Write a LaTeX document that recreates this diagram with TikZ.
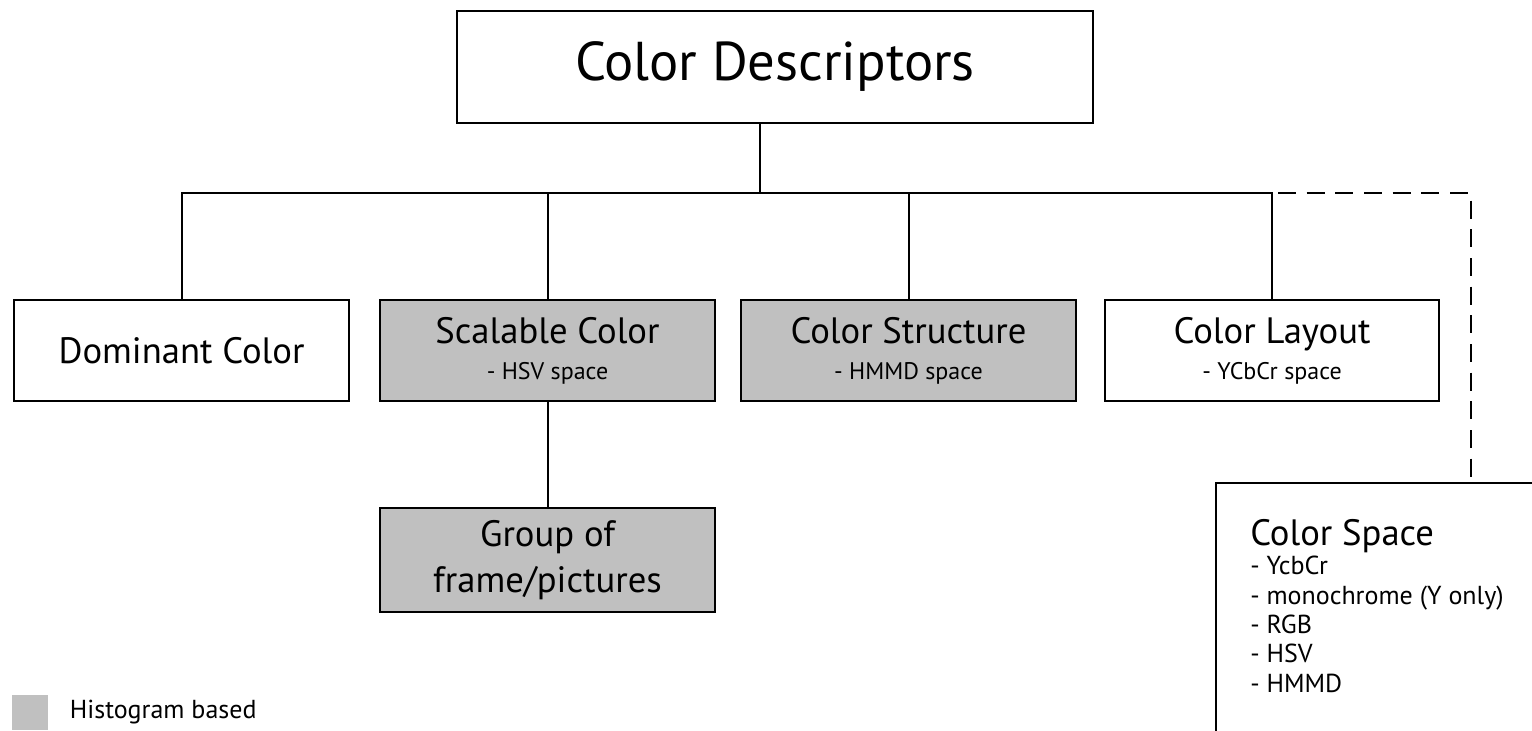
\documentclass[tikz,border=0pt]{standalone}
\usepackage{fontspec}
\setmainfont{PT Sans}
\usepackage{xcolor}
\usetikzlibrary{positioning}
\definecolor{histgray}{RGB}{192,192,192}
\newcommand{\sub}[1]{\\[-7pt]{\fontsize{18}{21}\selectfont #1}}

\begin{document}
\begin{tikzpicture}[x=0.75pt,y=-0.75pt,
  box/.style={draw,line width=1.5pt,align=center,inner sep=2pt,font=\fontsize{27.5}{34}\selectfont,
    minimum width=251pt,minimum height=76pt},
  hist/.style={box,fill=histgray},
  link/.style={line width=1.5pt},
  lab/.style={inner sep=0pt,align=left}]
\clip (0,0) rectangle (1532,731);
% top
\node[box,minimum width=477pt,minimum height=84pt,font=\fontsize{41}{48}\selectfont] (top) at (775,67) {Color Descriptors};
\coordinate (bus) at (760,193);
% descriptors
\node[box] (dom) at (181.5,350.5) {Dominant Color};
\node[hist] (scal) at (547.5,350.5) {Scalable Color\sub{- HSV space}};
\node[hist] (struc) at (908.5,350.5) {Color Structure\sub{- HMMD space}};
\node[box] (lay) at (1272,350.5) {Color Layout\sub{- YCbCr space}};
\node[hist,minimum height=78pt] (grp) at (547.5,560) {Group of\\frame/pictures};
% tree
\draw[link] (top.south -| bus) -- (bus);
\draw[link] (dom.north) |- (lay.north |- bus) -- (lay.north);
\draw[link] (scal.north) -- (scal.north |- bus);
\draw[link] (struc.north) -- (struc.north |- bus);
\draw[link] (scal.south) -- (grp.north);
% color space, off to the right
\node[box,anchor=north west,minimum width=260pt,minimum height=200pt] (cspace) at (1215,482) {};
\node[lab,anchor=north west,font=\fontsize{19.5}{22}\selectfont] (cstext) at (1250,519)
  {{\fontsize{27.5}{30}\selectfont Color Space}\\[0pt]- YcbCr\\- monochrome (Y only)\\- RGB\\- HSV\\- HMMD};
\coordinate (csin) at (1471,0 |- cspace.north);
\draw[link,dash pattern=on 13.5pt off 8pt,dash phase=17pt] (lay.north |- bus) -| (csin);
% legend
\node[fill=histgray,inner sep=0pt,minimum width=27pt,minimum height=26pt] (key) at (30,712.5) {};
\node[lab,anchor=west,font=\fontsize{19.5}{22}\selectfont,right=16pt of key] (keylab) {Histogram based};
\end{tikzpicture}
\end{document}
